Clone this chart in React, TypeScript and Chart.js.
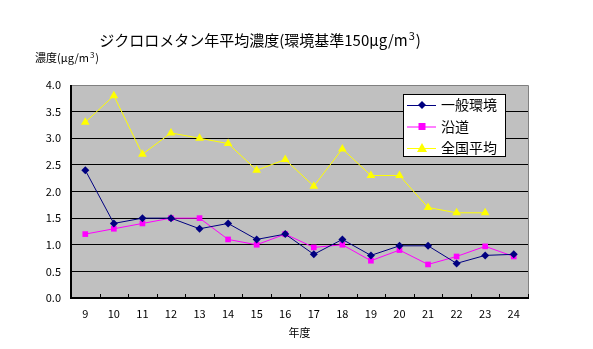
import React, { useEffect, useRef } from "react";
import { Chart, registerables } from "chart.js";

Chart.register(...registerables);

const years = ["9", "10", "11", "12", "13", "14", "15", "16", "17", "18", "19", "20", "21", "22", "23", "24"];
const ippan = [2.4, 1.4, 1.5, 1.5, 1.3, 1.4, 1.1, 1.2, 0.82, 1.1, 0.8, 0.98, 0.98, 0.65, 0.8, 0.82];
const endo = [1.2, 1.3, 1.4, 1.5, 1.5, 1.1, 1.0, 1.2, 0.95, 1.0, 0.7, 0.9, 0.63, 0.78, 0.97, 0.78];
const zenkoku = [3.3, 3.8, 2.7, 3.1, 3.0, 2.9, 2.4, 2.6, 2.1, 2.8, 2.3, 2.3, 1.7, 1.6, 1.6, null];
const seriesNames = ["一般環境", "沿道", "全国平均"];
const titleMain = "ジクロロメタン年平均濃度(環境基準150μg/m";
const unitMain = "濃度(μg/m";
const xTitle = "年度";

const FONT = "'Noto Sans CJK JP', sans-serif";

function drawSup(ctx: CanvasRenderingContext2D, parts: [string, string, string], x: number, y: number, size: number, center: boolean) {
  ctx.save();
  ctx.fillStyle = "#000";
  ctx.textBaseline = "middle";
  ctx.textAlign = "left";
  ctx.font = `${size}px ${FONT}`;
  const w0 = ctx.measureText(parts[0]).width;
  const w2 = ctx.measureText(parts[2]).width;
  ctx.font = `${Math.round(size * 0.7)}px ${FONT}`;
  const w1 = ctx.measureText(parts[1]).width;
  const total = w0 + w1 + w2 + 2;
  let sx = center ? x - total / 2 : x;
  ctx.font = `${size}px ${FONT}`;
  ctx.fillText(parts[0], sx, y);
  sx += w0 + 1;
  ctx.font = `${Math.round(size * 0.7)}px ${FONT}`;
  ctx.fillText(parts[1], sx, y - size * 0.3);
  sx += w1 + 1;
  ctx.font = `${size}px ${FONT}`;
  ctx.fillText(parts[2], sx, y);
  ctx.restore();
}

const decorPlugin = {
  id: "decor",
  beforeDraw(chart: any) {
    const { ctx, chartArea: a } = chart;
    ctx.save();
    ctx.fillStyle = "#FFFFFF";
    ctx.fillRect(0, 0, chart.width, chart.height);
    ctx.fillStyle = "#C0C0C0";
    ctx.fillRect(a.left, a.top, a.right - a.left, a.bottom - a.top);
    ctx.restore();
  },
  beforeDatasetsDraw(chart: any) {
    const { ctx, chartArea: a } = chart;
    const xs = chart.scales.x;
    ctx.save();
    ctx.strokeStyle = "#808080";
    ctx.lineWidth = 1;
    ctx.beginPath();
    ctx.moveTo(a.left, a.top + 0.5);
    ctx.lineTo(a.right + 0.5, a.top + 0.5);
    ctx.lineTo(a.right + 0.5, a.bottom);
    ctx.stroke();
    ctx.strokeStyle = "#000000";
    ctx.lineWidth = 2;
    ctx.beginPath();
    ctx.moveTo(a.left, a.top);
    ctx.lineTo(a.left, a.bottom);
    ctx.lineTo(a.right + 1, a.bottom);
    ctx.stroke();
    ctx.lineWidth = 1;
    ctx.beginPath();
    const step = (a.right - a.left) / years.length;
    for (let i = 1; i <= years.length; i++) {
      const x = Math.round(xs.getPixelForValue(i - 1) + step / 2) + 0.5;
      ctx.moveTo(x, a.bottom);
      ctx.lineTo(x, a.bottom - 4);
    }
    ctx.stroke();
    ctx.restore();
  },
  afterDraw(chart: any) {
    const { ctx, chartArea: a } = chart;
    drawSup(ctx, [titleMain, "3", ")"], 260, 40, 15, true);
    drawSup(ctx, [unitMain, "3", ")"], 35, 58, 11, false);
    ctx.save();
    ctx.fillStyle = "#000";
    ctx.font = `11px ${FONT}`;
    ctx.textAlign = "center";
    ctx.textBaseline = "middle";
    ctx.fillText(xTitle, (a.left + a.right) / 2, 333);
    // legend
    const lx = 403, ly = 94, lw = 102, lh = 62;
    ctx.fillStyle = "#FFFFFF";
    ctx.fillRect(lx, ly, lw, lh);
    ctx.strokeStyle = "#000";
    ctx.lineWidth = 1;
    ctx.strokeRect(lx + 0.5, ly + 0.5, lw, lh);
    chart.data.datasets.forEach((ds: any, i: number) => {
      const cy = 105 + i * 21.5;
      ctx.strokeStyle = ds.borderColor;
      ctx.lineWidth = 1;
      ctx.beginPath();
      ctx.moveTo(407, cy + 0.5);
      ctx.lineTo(436, cy + 0.5);
      ctx.stroke();
      ctx.fillStyle = ds.backgroundColor;
      ctx.beginPath();
      if (ds.pointStyle === "rectRot") {
        ctx.moveTo(422, cy - 4); ctx.lineTo(426, cy); ctx.lineTo(422, cy + 4); ctx.lineTo(418, cy);
      } else if (ds.pointStyle === "rect") {
        ctx.rect(418.5, cy - 3.5, 7, 7);
      } else {
        ctx.moveTo(422, cy - 5); ctx.lineTo(427, cy + 4); ctx.lineTo(417, cy + 4);
      }
      ctx.closePath();
      ctx.fill();
      ctx.fillStyle = "#000";
      ctx.font = `14px ${FONT}`;
      ctx.textAlign = "left";
      ctx.textBaseline = "middle";
      ctx.fillText(ds.label, 441, cy);
    });
    ctx.restore();
  },
};

export default function App() {
  const ref = useRef<HTMLCanvasElement | null>(null);
  useEffect(() => {
    if (!ref.current) return;
    const chart = new Chart(ref.current, {
      type: "line",
      data: {
        labels: years,
        datasets: [
          { label: seriesNames[0], data: ippan, borderColor: "#000080", backgroundColor: "#000080", pointStyle: "rectRot", pointRadius: 4, pointBorderWidth: 0, borderWidth: 1, tension: 0 },
          { label: seriesNames[1], data: endo, borderColor: "#FF00FF", backgroundColor: "#FF00FF", pointStyle: "rect", pointRadius: 4, pointBorderWidth: 0, borderWidth: 1, tension: 0 },
          { label: seriesNames[2], data: zenkoku, borderColor: "#FFFF00", backgroundColor: "#FFFF00", pointStyle: "triangle", pointRadius: 5, pointBorderWidth: 0, borderWidth: 1, tension: 0 },
        ],
      },
      options: {
        animation: false,
        responsive: false,
        devicePixelRatio: 1,
        layout: { padding: { top: 85, right: 65, left: 0, bottom: 0 } },
        plugins: { legend: { display: false }, title: { display: false }, tooltip: { enabled: false } },
        scales: {
          x: {
            offset: true,
            grid: { display: false, drawTicks: false },
            border: { display: false },
            ticks: { color: "#000", font: { family: FONT, size: 11 }, padding: 9, maxRotation: 0, autoSkip: false },
            afterFit: (s: any) => { s.height = 51; },
          },
          y: {
            min: 0,
            max: 4,
            ticks: { stepSize: 0.5, color: "#000", font: { family: FONT, size: 11 }, padding: 10, callback: (v: any) => Number(v).toFixed(1) },
            grid: { drawTicks: false, color: (c: any) => (c.tick && (c.tick.value === 4 || c.tick.value === 0) ? "rgba(0,0,0,0)" : "#000"), lineWidth: 1 },
            border: { display: false },
            afterFit: (s: any) => { s.width = 71; },
          },
        },
      },
      plugins: [decorPlugin],
    });
    return () => chart.destroy();
  }, []);
  return (
    <div style={{ position: "fixed", left: 0, top: 0, width: 593, height: 349, background: "#fff" }}>
      <canvas ref={ref} width={593} height={349} style={{ width: 593, height: 349, display: "block" }} />
    </div>
  );
}
